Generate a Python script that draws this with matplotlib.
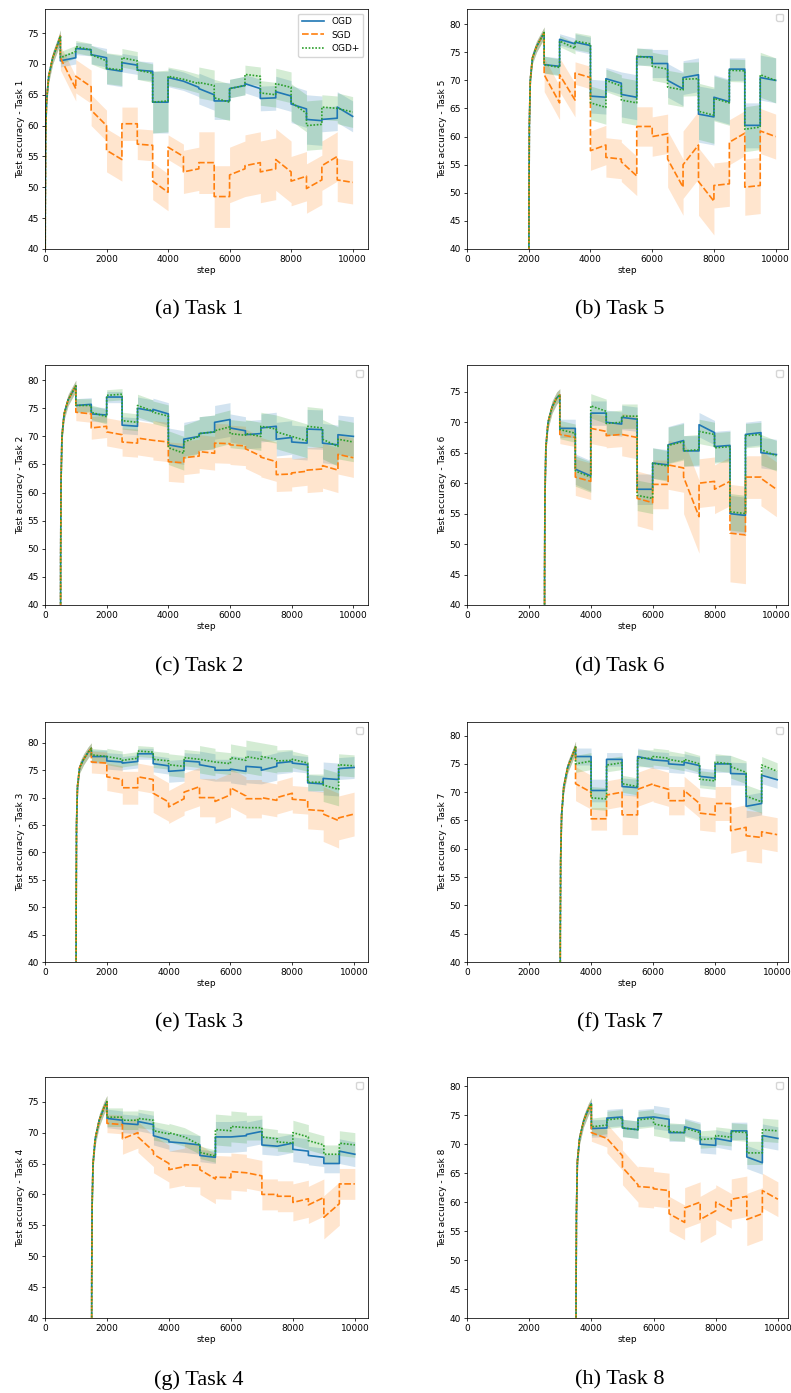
import matplotlib
matplotlib.use("Agg")
import matplotlib.pyplot as plt
import numpy as np

# every task trains for 500 steps, then one segment per later task
SEG = 500
RAMP_OFFSETS = [0, 8, 20, 50, 120, 250, 400, 500]

# ---- Task 1 (trained 0-500) ----
T1_RAMP = [10, 45, 58, 64, 68, 71, 73, 74.5]
T1_OGD = [(70.5, 71.0), (72.5, 72.3), (71.5, 71.0), (69.2, 68.8), (70.2, 69.8), (69.0, 68.8), (63.8, 63.8),
          (67.8, 67.2), (67.2, 66.2), (66.0, 65.0), (64.0, 64.0), (66.0, 66.5), (66.8, 66.0), (64.4, 64.5),
          (65.5, 64.8), (63.5, 62.7), (61.0, 60.8), (61.0, 61.2), (63.0, 61.5)]
T1_OGDP = [(71.0, 72.0), (72.8, 72.3), (71.5, 70.5), (69.3, 69.0), (71.0, 70.5), (69.0, 68.5), (63.8, 64.0),
           (68.0, 67.5), (67.5, 66.8), (67.0, 66.5), (64.5, 63.8), (66.0, 66.5), (68.3, 68.0), (65.3, 65.0),
           (66.8, 66.2), (63.8, 62.0), (60.0, 60.2), (63.0, 62.8), (62.8, 62.2)]
T1_SGD = [(71.0, 66.0), (68.0, 66.3), (62.5, 60.0), (56.0, 54.5), (60.3, 60.3), (57.0, 56.8), (51.0, 49.2),
          (56.5, 55.0), (52.5, 53.0), (54.0, 54.0), (48.5, 48.5), (52.0, 53.0), (53.5, 54.0), (52.5, 53.0),
          (54.5, 52.5), (51.0, 51.8), (49.8, 51.2), (53.5, 55.0), (51.2, 50.8)]
T1_SPREAD_OGD = [1.0, 1.0, 1.5, 2.5, 1.5, 1.5, 5.0, 1.5, 1.5, 2.5, 3.0, 1.5, 1.5, 2.0, 2.5, 3.0, 4.0, 2.0, 2.5]
T1_SPREAD_SGD = [2.0, 2.7, 2.5, 3.5, 2.7, 2.5, 3.0, 2.0, 3.5, 5.0, 5.0, 4.5, 5.0, 5.0, 5.0, 4.0, 4.0, 4.0, 3.5]

# ---- Task 5 (trained 2000-2500) ----
T5_RAMP = [10, 48, 62, 70, 74, 76, 77.5, 78.5]
T5_OGD = [(72.8, 72.5), (77.3, 76.5), (76.8, 76.2), (67.2, 67.0), (70.3, 69.5), (67.5, 67.0), (74.2, 74.2),
          (73.0, 73.0), (70.0, 68.5), (70.5, 71.0), (64.0, 63.5), (67.0, 66.2), (72.0, 72.0), (62.0, 62.0),
          (70.5, 70.0)]
T5_OGDP = [(72.8, 72.3), (77.0, 75.7), (77.0, 76.5), (66.0, 65.2), (70.0, 69.0), (66.5, 66.0), (74.3, 74.0),
           (72.5, 72.0), (68.8, 68.3), (70.2, 70.3), (64.5, 63.8), (66.8, 66.0), (71.8, 71.7), (61.3, 61.7),
           (71.0, 70.0)]
T5_SGD = [(71.0, 66.0), (71.0, 66.5), (71.3, 70.5), (57.5, 58.5), (56.3, 56.0), (55.5, 53.0), (61.8, 61.8),
          (60.0, 60.5), (56.0, 51.0), (55.0, 58.5), (52.0, 48.5), (51.3, 51.6), (59.0, 60.6), (51.0, 51.3),
          (61.0, 60.0)]
T5_SPREAD_OGD = [1.5, 1.0, 1.5, 3.0, 2.0, 4.0, 1.5, 2.5, 3.0, 3.0, 5.0, 4.0, 2.0, 4.0, 4.0]
T5_SPREAD_SGD = [3.0, 3.0, 2.0, 3.5, 3.5, 3.5, 3.5, 3.5, 5.0, 6.0, 6.0, 4.0, 4.0, 5.0, 4.0]

# ---- Task 2 (trained 500-1000) ----
T2_RAMP = [10, 48, 62, 70, 74, 76.5, 78, 79]
T2_OGD = [(75.5, 75.7), (74.0, 73.8), (77.0, 77.0), (72.0, 71.8), (75.0, 74.5), (74.8, 74.0), (68.5, 68.0),
          (69.5, 70.0), (70.5, 70.8), (72.5, 73.0), (71.5, 71.0), (70.3, 70.5), (71.5, 71.8), (69.5, 69.8),
          (69.0, 68.8), (71.3, 71.2), (68.8, 68.5), (70.3, 70.0)]
T2_OGDP = [(75.5, 75.5), (74.3, 73.5), (77.3, 77.5), (72.8, 72.5), (75.5, 74.5), (74.3, 73.6), (68.0, 67.0),
           (69.0, 70.0), (70.5, 70.8), (71.0, 71.7), (70.5, 70.2), (70.5, 70.0), (71.8, 71.3), (70.8, 70.0),
           (70.0, 69.2), (71.8, 71.5), (69.5, 68.2), (69.5, 69.0)]
T2_SGD = [(74.3, 74.0), (71.5, 71.8), (70.8, 70.3), (69.0, 68.8), (69.7, 69.3), (69.3, 69.0), (65.5, 65.3),
          (66.2, 66.5), (67.3, 67.0), (68.8, 68.7), (68.5, 68.3), (67.8, 66.5), (66.3, 65.5), (63.2, 63.3),
          (63.5, 63.8), (64.0, 64.2), (64.8, 64.0), (66.8, 66.2)]
T2_SPREAD_OGD = [1.2, 1.3, 1.0, 1.5, 2.0, 2.0, 3.0, 3.0, 3.0, 3.0, 2.5, 2.5, 2.5, 3.0, 3.0, 3.5, 3.5, 3.5]
T2_SPREAD_SGD = [1.5, 2.0, 2.5, 2.5, 3.0, 3.5, 3.5, 3.0, 3.0, 3.5, 3.5, 3.5, 3.5, 3.0, 2.5, 4.0, 4.0, 3.5]

# ---- Task 6 (trained 2500-3000) ----
T6_RAMP = [10, 45, 58, 66, 70, 72.5, 74, 74.5]
T6_OGD = [(69.0, 69.0), (62.3, 61.2), (71.5, 71.5), (70.0, 69.7), (70.8, 70.5), (59.0, 59.0), (63.3, 63.0),
          (66.3, 67.0), (65.3, 65.3), (69.6, 68.3), (66.0, 66.2), (55.0, 54.7), (68.0, 68.3), (65.0, 64.7)]
T6_OGDP = [(68.8, 68.2), (62.0, 61.0), (72.7, 71.8), (69.8, 70.0), (71.0, 71.0), (58.0, 57.5), (63.3, 62.8),
           (66.2, 66.8), (65.3, 65.5), (68.5, 68.0), (65.8, 66.0), (55.3, 55.0), (67.8, 68.0), (65.5, 64.5)]
T6_SGD = [(68.0, 67.5), (61.0, 60.3), (69.0, 68.5), (67.8, 68.0), (68.0, 67.5), (57.5, 56.8), (59.8, 59.8),
          (63.0, 62.5), (61.0, 54.5), (60.0, 60.3), (59.0, 60.3), (51.8, 51.5), (61.0, 61.0), (60.8, 59.0)]
T6_SPREAD_OGD = [1.5, 2.5, 2.0, 2.0, 2.0, 2.5, 2.5, 3.0, 2.5, 2.0, 2.5, 3.0, 2.0, 2.5]
T6_SPREAD_SGD = [1.5, 3.0, 2.5, 2.0, 3.5, 4.5, 4.0, 4.0, 6.0, 4.0, 4.0, 8.0, 3.5, 4.5]

# ---- Task 3 (trained 1000-1500) ----
T3_RAMP = [10, 50, 65, 72, 75.5, 77, 78.3, 79]
T3_OGD = [(77.5, 77.5), (76.7, 76.5), (76.3, 76.6), (78.0, 78.0), (76.2, 75.8), (74.8, 75.0), (76.7, 76.5),
          (76.0, 75.5), (75.0, 75.0), (75.2, 74.8), (75.7, 75.5), (75.0, 75.7), (76.3, 76.6), (76.3, 76.0),
          (72.7, 72.5), (73.5, 73.3), (75.3, 75.5)]
T3_OGDP = [(77.8, 77.5), (77.5, 77.0), (76.8, 77.2), (78.5, 78.3), (77.0, 76.7), (76.0, 75.7), (77.3, 77.0),
           (77.0, 76.5), (76.5, 76.2), (77.3, 76.8), (77.5, 77.0), (77.5, 77.0), (76.7, 76.8), (77.0, 76.3),
           (72.8, 72.8), (72.3, 71.5), (76.0, 75.8)]
T3_SGD = [(76.5, 76.3), (73.8, 73.3), (71.8, 71.8), (73.8, 73.3), (70.8, 69.2), (68.3, 69.8), (71.0, 72.0),
          (70.0, 70.0), (69.3, 70.5), (71.8, 70.3), (69.8, 69.8), (70.0, 69.5), (70.0, 70.8), (69.7, 69.5),
          (67.8, 67.6), (67.0, 65.8), (66.3, 67.0)]
T3_SPREAD_OGD = [1.2, 1.5, 1.2, 1.0, 1.5, 2.0, 1.5, 2.5, 2.0, 2.5, 3.0, 2.5, 2.0, 1.5, 1.5, 3.0, 2.0]
T3_SPREAD_SGD = [2.0, 2.5, 3.0, 2.5, 3.5, 3.0, 3.5, 3.5, 4.0, 3.5, 3.5, 3.0, 3.0, 2.5, 3.5, 5.0, 4.0]

# ---- Task 7 (trained 3000-3500) ----
T7_RAMP = [10, 45, 58, 66, 71, 74.5, 76.5, 78]
T7_OGD = [(76.3, 76.3), (70.3, 70.3), (75.8, 75.8), (71.0, 70.8), (76.3, 75.7), (75.7, 75.5), (75.0, 74.8),
          (75.3, 74.7), (72.8, 72.5), (75.0, 75.0), (73.3, 73.2), (67.5, 68.0), (73.0, 72.2)]
T7_OGDP = [(75.0, 75.5), (69.0, 68.8), (74.8, 75.2), (71.5, 71.0), (76.0, 76.0), (76.3, 76.0), (75.8, 75.3),
           (75.8, 75.0), (72.3, 72.0), (75.3, 75.0), (74.5, 73.5), (69.3, 68.3), (74.8, 73.7)]
T7_SGD = [(71.5, 70.0), (65.3, 65.3), (69.5, 70.0), (66.0, 66.0), (70.5, 71.5), (71.3, 70.5), (68.5, 68.5),
          (70.3, 68.0), (66.3, 66.0), (68.0, 68.0), (63.2, 63.8), (62.3, 62.0), (63.0, 62.5)]
T7_SPREAD_OGD = [1.5, 2.0, 1.2, 1.5, 1.5, 1.5, 1.5, 1.5, 1.5, 1.5, 2.0, 2.0, 1.5]
T7_SPREAD_SGD = [3.0, 2.0, 2.5, 3.5, 3.0, 3.0, 2.5, 2.5, 3.0, 3.0, 4.0, 4.5, 3.0]

# ---- Task 4 (trained 1500-2000) ----
T4_RAMP = [10, 45, 58, 65, 69, 72, 74, 75]
T4_OGD = [(72.3, 72.0), (71.5, 71.3), (71.8, 71.3), (69.5, 68.8), (68.5, 68.3), (68.3, 68.0), (66.3, 66.0),
          (69.3, 69.3), (69.3, 69.5), (69.7, 70.2), (68.0, 67.8), (67.8, 68.3), (67.3, 67.0), (66.3, 66.0),
          (65.0, 65.0), (67.0, 66.5)]
T4_OGDP = [(72.5, 72.5), (72.0, 72.0), (72.3, 72.0), (70.3, 69.8), (70.0, 69.3), (69.3, 68.0), (66.8, 66.2),
           (70.5, 70.3), (71.0, 70.8), (70.8, 70.8), (69.3, 69.0), (68.5, 68.3), (70.0, 69.3), (68.7, 68.0),
           (66.5, 66.5), (68.3, 68.0)]
T4_SGD = [(71.5, 71.3), (69.0, 70.0), (69.3, 67.0), (66.5, 65.0), (64.0, 64.5), (64.8, 64.7), (64.0, 62.5),
          (62.8, 62.7), (63.7, 63.5), (63.5, 63.0), (60.0, 60.0), (59.7, 59.7), (58.7, 59.3), (58.3, 59.5),
          (56.3, 58.5), (61.7, 61.7)]
T4_SPREAD_OGD = [1.5, 1.5, 1.5, 1.5, 1.5, 1.5, 1.0, 2.5, 2.5, 2.0, 1.5, 1.5, 2.0, 1.5, 1.5, 2.0]
T4_SPREAD_SGD = [1.5, 2.5, 2.5, 3.0, 3.0, 3.5, 4.0, 3.5, 3.0, 2.5, 2.5, 2.5, 3.0, 3.0, 3.5, 2.5]

# ---- Task 8 (trained 3500-4000) ----
T8_RAMP = [10, 45, 58, 67, 71, 74, 76, 77]
T8_OGD = [(72.7, 72.8), (74.5, 74.7), (72.8, 72.5), (74.5, 74.7), (74.7, 74.3), (72.0, 72.0), (73.0, 72.3),
          (70.0, 69.8), (71.0, 70.5), (72.3, 72.3), (67.8, 66.8), (71.5, 71.0)]
T8_OGDP = [(73.0, 73.3), (74.2, 74.5), (72.8, 72.5), (74.2, 74.5), (73.5, 73.0), (72.2, 72.0), (72.8, 72.0),
           (70.8, 71.0), (71.5, 71.2), (72.2, 72.0), (68.5, 68.5), (72.5, 72.3)]
T8_SGD = [(72.0, 71.0), (71.0, 68.0), (66.0, 63.0), (62.7, 62.5), (62.3, 62.0), (58.0, 56.5), (59.0, 60.0),
          (57.0, 58.5), (60.0, 58.5), (60.5, 61.0), (57.0, 58.0), (62.0, 60.5)]
T8_SPREAD_OGD = [1.5, 1.5, 1.5, 1.5, 2.0, 1.5, 1.5, 1.5, 1.5, 1.5, 2.0, 2.0]
T8_SPREAD_SGD = [1.5, 2.5, 3.0, 3.5, 3.0, 3.0, 3.5, 4.0, 3.0, 3.5, 4.5, 3.0]

# panel order in the 4x2 grid: (letter, task, ramp, ogd, sgd, ogd+, spread ogd, spread sgd, y top)
PANELS = [
    ("a", 1, T1_RAMP, T1_OGD, T1_SGD, T1_OGDP, T1_SPREAD_OGD, T1_SPREAD_SGD, 78.9),
    ("b", 5, T5_RAMP, T5_OGD, T5_SGD, T5_OGDP, T5_SPREAD_OGD, T5_SPREAD_SGD, 82.7),
    ("c", 2, T2_RAMP, T2_OGD, T2_SGD, T2_OGDP, T2_SPREAD_OGD, T2_SPREAD_SGD, 82.7),
    ("d", 6, T6_RAMP, T6_OGD, T6_SGD, T6_OGDP, T6_SPREAD_OGD, T6_SPREAD_SGD, 79.4),
    ("e", 3, T3_RAMP, T3_OGD, T3_SGD, T3_OGDP, T3_SPREAD_OGD, T3_SPREAD_SGD, 83.8),
    ("f", 7, T7_RAMP, T7_OGD, T7_SGD, T7_OGDP, T7_SPREAD_OGD, T7_SPREAD_SGD, 82.4),
    ("g", 4, T4_RAMP, T4_OGD, T4_SGD, T4_OGDP, T4_SPREAD_OGD, T4_SPREAD_SGD, 79.0),
    ("h", 8, T8_RAMP, T8_OGD, T8_SGD, T8_OGDP, T8_SPREAD_OGD, T8_SPREAD_SGD, 81.6),
]

BLUE, ORANGE, GREEN = "#1f77b4", "#ff7f0e", "#2ca02c"
FS = 6.5


def build_curve(start, ramp, segs, spread, ramp_spread=1.0):
    x = [start + o for o in RAMP_OFFSETS]
    y = list(ramp)
    s = [ramp_spread] * len(ramp)
    b = start + SEG
    for (v0, v1), sp in zip(segs, spread):
        x += [b, b + SEG]
        y += [v0, v1]
        s += [sp, sp]
        b += SEG
    return np.array(x, float), np.array(y, float), np.array(s, float)


W, H = 791, 1393
fig = plt.figure(figsize=(W / 100, H / 100), dpi=100)

rows = [(9, 249), (365, 605), (722, 962), (1077, 1318)]
cols = [(45, 368), (467, 788)]
cap_y = [310, 667, 1023, 1380]
cap_x = [199, 620]

for i, (letter, task, ramp, ogd, sgd, ogdp, sp_o, sp_s, ytop) in enumerate(PANELS):
    r, c = divmod(i, 2)
    (l, rgt), (t, b) = cols[c], rows[r]
    ax = fig.add_axes([l / W, 1 - b / H, (rgt - l) / W, (b - t) / H])
    start = (task - 1) * SEG

    series = [("OGD", ogd, sp_o, BLUE, dict(linestyle="-")),
              ("SGD", sgd, sp_s, ORANGE, dict(dashes=(4, 1.5))),
              ("OGD+", ogdp, sp_o, GREEN, dict(dashes=(1, 1)))]
    handles = []
    for name, segs, spread, col, style in series:
        x, y, s = build_curve(start, ramp, segs, spread)
        ax.fill_between(x, y - s, y + s, color=col, alpha=0.2, linewidth=0)
        ln, = ax.plot(x, y, color=col, lw=1.2, label=name, **style)
        handles.append(ln)

    ax.set_xlim(left=0)
    ax.set_ylim(40, ytop)
    ax.set_xticks([0, 2000, 4000, 6000, 8000, 10000])
    ax.tick_params(labelsize=FS, length=2.3, width=0.55, pad=2)
    for sp in ax.spines.values():
        sp.set_linewidth(0.55)
    ax.set_xlabel("step", fontsize=FS, labelpad=1.5)
    ax.set_ylabel(f"Test accuracy - Task {task}", fontsize=FS, labelpad=2)

    if i == 0:
        ax.legend(handles=handles, loc="upper right", fontsize=FS, handlelength=2.5)
    else:
        ax.legend(handles=[], loc="upper right", fontsize=FS)

    fig.text(cap_x[c] / W, 1 - cap_y[r] / H, f"({letter}) Task {task}",
             ha="center", va="center", fontsize=16, family="Liberation Serif")

fig.savefig("out.png", dpi=100)
